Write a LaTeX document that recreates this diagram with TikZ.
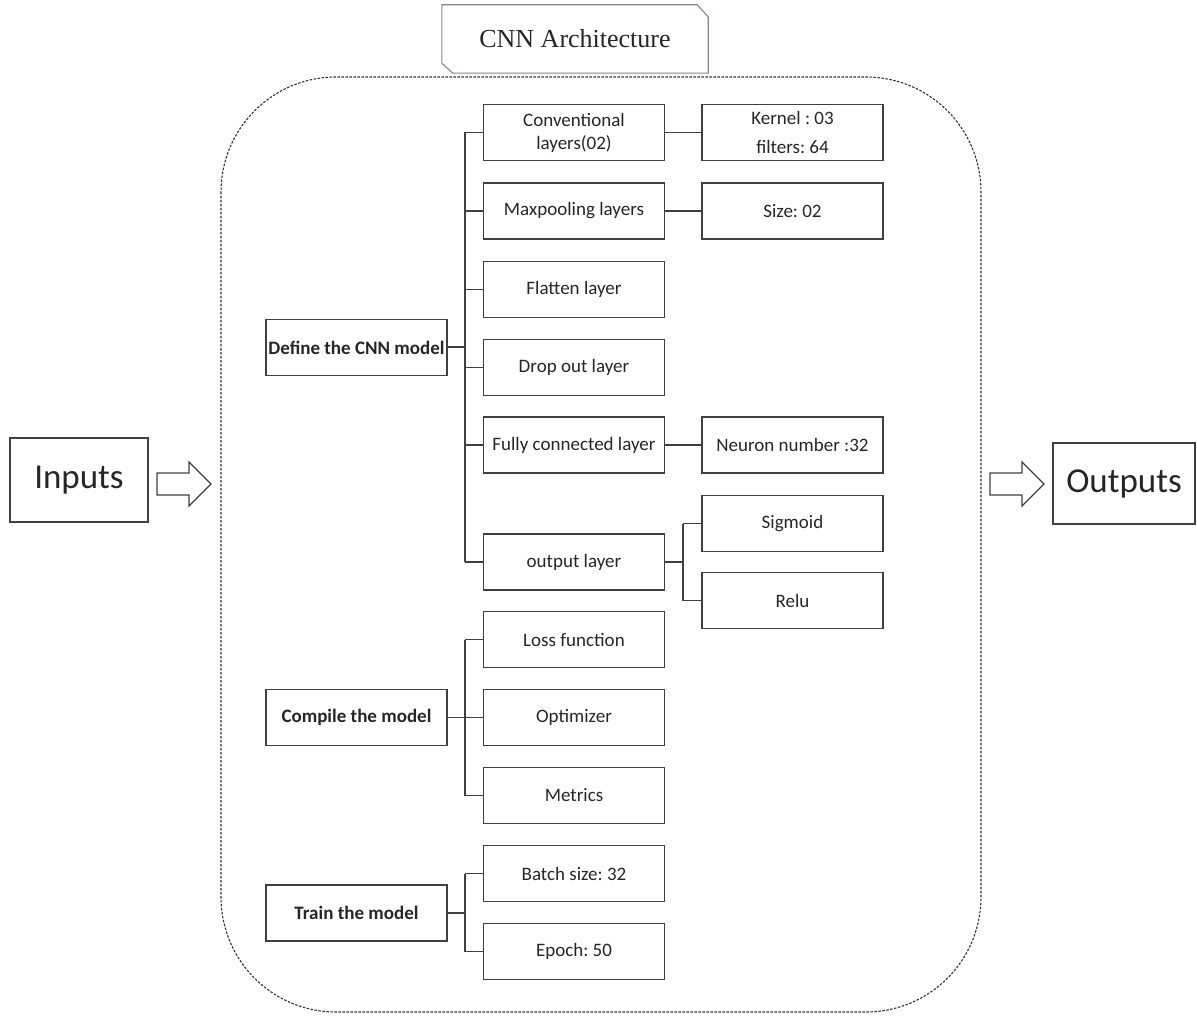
\documentclass[tikz,border=0pt]{standalone}
\usepackage{fontspec}
\setmainfont{Carlito}
\newfontfamily\titlefont{Liberation Serif}
\frenchspacing
\definecolor{edge}{RGB}{64,64,64}
\definecolor{titleedge}{RGB}{125,135,150}
\newcommand\fatarrow[1]{%
  \draw[arrowline] ([yshift=11pt]#1) -- ++(32pt,0) -- ++(0,11pt) -- ++(22pt,-22pt)
    -- ++(-22pt,-22pt) -- ++(0,11pt) -- ++(-32pt,0) -- cycle;}
\begin{document}
\begin{tikzpicture}[x=1pt,y=-1pt,
  every node/.style={text=black!85},
  lbl/.style={font=\fontsize{19}{23}\selectfont},
  box/.style={draw=edge, line width=1.4pt, minimum width=181pt, minimum height=56pt,
              inner sep=0pt, align=center, lbl},
  boldlbl/.style={font=\fontsize{19}{23}\selectfont\bfseries},
  link/.style={draw=edge, line width=1.4pt},
  arrowline/.style={draw=edge, line width=1.3pt, fill=white, line join=miter},
  frame/.style={draw=black!80, line width=1.1pt, dash pattern=on 2.5pt off 1.5pt,
                rounded corners=115pt}]
\useasboundingbox (0,0) rectangle (1197,1016);

% outer dashed container
\draw[frame] (221,77) rectangle (981,1012);

% title tab with chamfered corners
\node[font=\titlefont\fontsize{26}{30}\selectfont, minimum width=266pt,
      minimum height=68pt, inner sep=0pt] (title) at (575,39) {CNN Architecture};
\draw[titleedge, line width=1.1pt]
  (title.north west) -- ([xshift=-11pt]title.north east)
  -- ([yshift=-12pt]title.north east) -- (title.south east)
  -- ([xshift=11pt]title.south west) -- ([yshift=10pt]title.south west) -- cycle;

% inputs and outputs
\node[draw=edge, line width=1.4pt, minimum width=138pt, minimum height=84pt,
      inner sep=0pt, font=\fontsize{35}{40}\selectfont] (inp) at (79,480) {Inputs};
\node[draw=edge, line width=1.4pt, minimum width=142pt, minimum height=81pt,
      inner sep=0pt, font=\fontsize{35}{40}\selectfont] (outp) at (1124,483.5) {Outputs};
\coordinate (a1) at (157,484);
\coordinate (a2) at (990,484);
\fatarrow{a1}
\fatarrow{a2}

% stage boxes
\node[box,boldlbl] (def)  at (356.5,347.5) {Define the CNN model};
\node[box,boldlbl] (comp) at (356.5,717.5) {Compile the model};
\node[box,boldlbl] (train) at (356.5,913) {Train the model};

% layer boxes
\node[box] (conv)  at (574,132.5) {Conventional\\layers(02)};
\node[box] (maxp)  at (574,211)   {Maxpooling layers};
\node[box] (flat)  at (574,289.5) {Flatten layer};
\node[box] (drop)  at (574,367.5) {Drop out layer};
\node[box] (fc)    at (574,445)   {Fully connected layer};
\node[box] (outl)  at (574,562)   {output layer};
\node[box] (loss)  at (574,639.5) {Loss function};
\node[box] (opt)   at (574,717.5) {Optimizer};
\node[box] (met)   at (574,795.5) {Metrics};
\node[box] (batch) at (574,873.5) {Batch size: 32};
\node[box] (epoch) at (574,951.5) {Epoch: 50};

% parameter boxes
\node[box] (kern) at (792.5,132.5) {Kernel : 03\\[6pt]filters: 64};
\node[box] (size) at (792.5,211)   {Size: 02};
\node[box] (neur) at (792.5,445)   {Neuron number :32};
\node[box] (sig)  at (792.5,523.5) {Sigmoid};
\node[box] (relu) at (792.5,600.5) {Relu};

% tree connectors
\coordinate (t1) at (465,0);
\coordinate (t2) at (683,0);

\draw[link, line width=2pt] (def.east) -- (def.east -| t1);
\draw[link] (conv.west -| t1) -- (outl.west -| t1);
\foreach \n in {conv,maxp,flat,drop,fc,outl}
  \draw[link] (\n.west -| t1) -- (\n.west);

\draw[link] (comp.east) -- (comp.east -| t1);
\draw[link] (loss.west -| t1) -- (met.west -| t1);
\foreach \n in {loss,opt,met}
  \draw[link] (\n.west -| t1) -- (\n.west);

\draw[link] (train.east) -- (train.east -| t1);
\draw[link] (batch.west -| t1) -- (epoch.west -| t1);
\foreach \n in {batch,epoch}
  \draw[link] (\n.west -| t1) -- (\n.west);

\draw[link] (conv.east) -- (kern.west);
\draw[link] (maxp.east) -- (size.west);
\draw[link] (fc.east) -- (neur.west);

\draw[link] (outl.east) -- (outl.east -| t2);
\draw[link] (sig.west -| t2) -- (relu.west -| t2);
\foreach \n in {sig,relu}
  \draw[link] (\n.west -| t2) -- (\n.west);
\end{tikzpicture}
\end{document}
